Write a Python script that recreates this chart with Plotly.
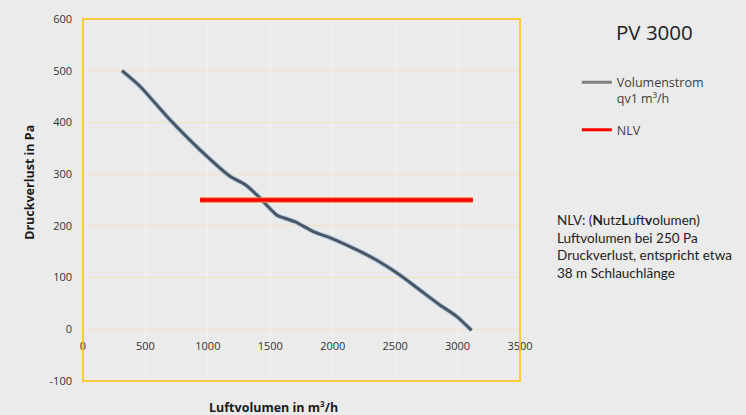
import plotly.graph_objects as go

# Data
flow_m3h = [312, 456, 697, 937, 1177, 1297, 1417, 1443, 1550, 1577, 1697, 1844, 1990, 2190, 2350, 2538, 2698, 2858, 2992, 3112]
pressure_pa = [500, 470, 405, 347, 296, 280, 254, 247, 221, 218, 208, 189, 176, 154, 134, 105, 76, 47, 25, -2]
nlv_x = [937, 3122]
nlv_y = [250, 250]

x_ticks = [0, 500, 1000, 1500, 2000, 2500, 3000, 3500]
y_ticks = [-100, 0, 100, 200, 300, 400, 500, 600]

font_main = "Open Sans, Liberation Sans, sans-serif"

fig = go.Figure()

# shadow under curve
fig.add_trace(go.Scatter(x=flow_m3h, y=pressure_pa, mode="lines",
                         line=dict(color="rgba(150,190,225,0.6)", width=5, shape="spline", smoothing=0.6),
                         showlegend=False, hoverinfo="skip"))
fig.add_trace(go.Scatter(x=flow_m3h, y=pressure_pa, mode="lines",
                         line=dict(color="#4a5663", width=3, shape="spline", smoothing=0.6),
                         showlegend=False))
# NLV line with orange shadow
fig.add_trace(go.Scatter(x=nlv_x, y=nlv_y, mode="lines",
                         line=dict(color="#f0883a", width=5.5),
                         showlegend=False, hoverinfo="skip"))
fig.add_trace(go.Scatter(x=nlv_x, y=nlv_y, mode="lines",
                         line=dict(color="#ff0000", width=3.5),
                         showlegend=False))

# legend entries
fig.add_trace(go.Scatter(x=[None], y=[None], mode="lines", legendgroup="a",
                         line=dict(color="#7f7f7f", width=3),
                         name="Volumenstrom<br>qv1 m³/h"))
fig.add_trace(go.Scatter(x=[None], y=[None], mode="lines", legendgroup="b",
                         line=dict(color="#ff0000", width=3),
                         name="NLV"))

fig.update_layout(
    width=746, height=415,
    margin=dict(l=83, r=226, t=19, b=34),
    paper_bgcolor="#ebebeb", plot_bgcolor="#ebebeb",
    font=dict(family=font_main, size=11, color="#333333"),
    showlegend=True,
    legend=dict(x=1.13, y=0.866, xanchor="left", yanchor="top", valign="top",
                bgcolor="rgba(0,0,0,0)", font=dict(size=12.5, color="#404040"),
                tracegroupgap=12, itemwidth=30),
    xaxis=dict(range=[0, 3500], tickvals=x_ticks, ticktext=[str(v) for v in x_ticks],
               showgrid=True, gridcolor="rgba(255,255,255,0.35)", gridwidth=1,
               zeroline=False, showline=False, ticks="",
               anchor="free", position=1/7, ticklabelstandoff=9,
               tickfont=dict(size=11, color="#333333")),
    yaxis=dict(range=[-100, 600], tickvals=y_ticks, ticktext=[str(v) for v in y_ticks],
               showgrid=True, gridcolor="#f2e2bd", gridwidth=1,
               zeroline=False, showline=False, ticks="", ticklabelstandoff=10,
               tickfont=dict(size=11, color="#333333")),
    shapes=[dict(type="rect", xref="x domain", yref="y domain", x0=0, x1=1, y0=0, y1=1,
                 line=dict(color="#ffc000", width=1.5), layer="above")],
    annotations=[
        dict(text="<b>Druckverlust in Pa</b>", xref="paper", yref="paper",
             x=-0.148, y=0.714, textangle=-90, showarrow=False,
             font=dict(size=12.5, color="#1a1a1a")),
        dict(text="<b>Luftvolumen in m³/h</b>", xref="paper", yref="paper",
             x=0.437, y=-0.072, yanchor="middle", showarrow=False,
             font=dict(size=12.5, color="#1a1a1a")),
        dict(text="PV 3000", xref="paper", yref="paper", x=1.307, y=0.965,
             xanchor="center", yanchor="middle", showarrow=False,
             font=dict(size=20.5, color="#222222")),
        dict(text="NLV: (<b>N</b>utz<b>L</b>uft<b>v</b>olumen)<br>Luftvolumen bei 250 Pa<br>"
                  "Druckverlust, entspricht etwa<br>38 m Schlauchlänge",
             xref="paper", yref="paper", x=1.08, y=0.473, xanchor="left", yanchor="top",
             align="left", showarrow=False,
             font=dict(size=13.5, color="#222222", family="Lato, sans-serif")),
    ],
)

fig.write_html("out.html", config={"displayModeBar": False},
               post_script="document.body.style.margin='0';")
